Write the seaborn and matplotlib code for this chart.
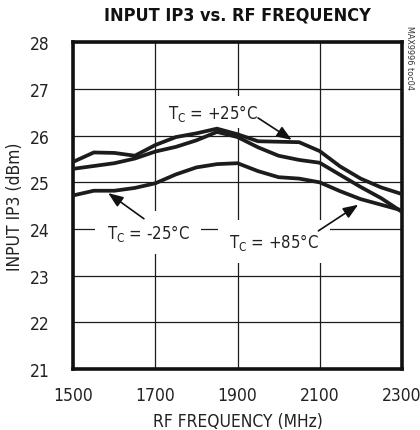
import numpy as np
import pandas as pd
import matplotlib
matplotlib.use("Agg")
import matplotlib.pyplot as plt
from matplotlib import font_manager
import seaborn as sns

# ------------------ data ------------------
freq = [1500, 1550, 1600, 1650, 1700, 1750, 1800, 1850, 1900,
        1950, 2000, 2050, 2100, 2150, 2200, 2250, 2300]
ip3_p25 = [25.44, 25.64, 25.63, 25.57, 25.80, 25.97, 26.05, 26.15, 26.03,
           25.88, 25.87, 25.86, 25.67, 25.34, 25.08, 24.89, 24.75]
ip3_p85 = [25.29, 25.35, 25.41, 25.51, 25.66, 25.76, 25.90, 26.08, 25.97,
           25.75, 25.57, 25.48, 25.42, 25.16, 24.90, 24.66, 24.37]
ip3_m25 = [24.72, 24.82, 24.82, 24.88, 24.98, 25.17, 25.32, 25.39, 25.41,
           25.24, 25.11, 25.08, 25.00, 24.81, 24.64, 24.52, 24.40]
temps = ["+25", "+85", "-25"]

x_ticks = [1500, 1700, 1900, 2100, 2300]
y_ticks = [21, 22, 23, 24, 25, 26, 27, 28]

df = pd.DataFrame({
    "freq": freq * 3,
    "ip3": ip3_p25 + ip3_p85 + ip3_m25,
    "temp": sum([[t] * len(freq) for t in temps], []),
})

# ------------------ style ------------------
sns.set_style("white")
names = {f.name for f in font_manager.fontManager.ttflist}
if "Liberation Sans Narrow" in names:
    plt.rcParams["font.family"] = ["Liberation Sans Narrow", "DejaVu Sans"]
    plt.rcParams["mathtext.rm"] = "Liberation Sans Narrow"
else:
    plt.rcParams["font.family"] = ["DejaVu Sans"]
    plt.rcParams["font.stretch"] = "condensed"
    plt.rcParams["mathtext.rm"] = "DejaVu Sans:stretch=condensed"
plt.rcParams["mathtext.fontset"] = "custom"

INK = "#1c1c1c"
fig = plt.figure(figsize=(4.2, 4.31), dpi=100)
ax = fig.add_axes([0.1745, 0.1415, 0.782, 0.758])

sns.lineplot(data=df, x="freq", y="ip3", hue="temp", palette=[INK] * 3,
             linewidth=2.7, legend=False, ax=ax, zorder=5)

ax.set_xlim(1500, 2300)
ax.set_ylim(21, 28)
ax.set_xticks(x_ticks)
ax.set_yticks(y_ticks)
ax.grid(True, color=INK, linewidth=0.9)
ax.set_axisbelow(True)
for s in ax.spines.values():
    s.set_linewidth(2.6)
    s.set_color("#111111")
ax.tick_params(length=0, labelsize=12.5, colors="#222222")
ax.tick_params(axis="y", pad=17)
ax.tick_params(axis="x", pad=12)

ax.set_xlabel("RF FREQUENCY (MHz)", fontsize=12.5, color="#222222", labelpad=6)
ax.set_ylabel("INPUT IP3 (dBm)", fontsize=12.5, color="#222222", labelpad=4)
fig.text(0.565, 0.965, "INPUT IP3 vs. RF FREQUENCY", ha="center", va="center",
         fontsize=13, fontweight="bold", color="#111111")

arrow = dict(arrowstyle="-|>,head_length=0.9,head_width=0.35", color="#111111",
             lw=1.2, shrinkA=0, shrinkB=0)

ax.annotate("", xy=(2032, 25.91), xytext=(1950, 26.38), arrowprops=arrow, zorder=6)
ax.text(1840, 26.5, "T$_\\mathrm{C}$ = +25°C", ha="center", va="center",
        fontsize=12, color="#222222", bbox=dict(fc="white", ec="none", pad=4), zorder=4)

ax.annotate("", xy=(1585, 24.77), xytext=(1672, 24.22), arrowprops=arrow, zorder=6)
ax.text(1682, 23.93, "T$_\\mathrm{C}$ = -25°C", ha="center", va="center",
        fontsize=12, color="#222222", bbox=dict(fc="white", ec="none", pad=8), zorder=4)

ax.annotate("", xy=(2194, 24.52), xytext=(2097, 23.96), arrowprops=arrow, zorder=6)
ax.text(1989, 23.73, "T$_\\mathrm{C}$ = +85°C", ha="center", va="center",
        fontsize=12, color="#222222", bbox=dict(fc="white", ec="none", pad=8), zorder=4)

fig.text(0.975, 0.865, "MAX9996 toc04", rotation=270, ha="center", va="center",
         fontsize=6.5, color="#333333")

fig.savefig("out.png", dpi=100)
